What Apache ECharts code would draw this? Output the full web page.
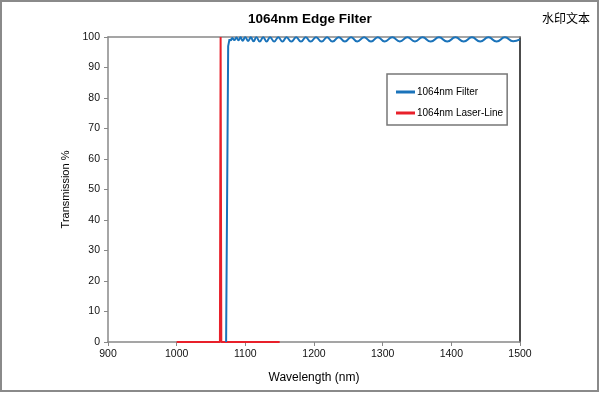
<!DOCTYPE html>
<html><head><meta charset="utf-8">
<script src="https://cdn.jsdelivr.net/npm/echarts@6/dist/echarts.min.js"></script>
<style>html,body{margin:0;padding:0;background:#fff}#c{width:600px;height:393px}</style>
</head><body><div id="c"></div>
<script>
const chartTitle = '1064nm Edge Filter';
const watermark = '水印文本';
const xTicks = [900, 1000, 1100, 1200, 1300, 1400, 1500];
const yTicks = [0, 10, 20, 30, 40, 50, 60, 70, 80, 90, 100];
// Filter edge (steep rise)
const edgeX = [1072, 1073.5, 1075, 1077];
const edgeY = [0, 0, 97, 99.3];
// Filter passband ripple (peaks/troughs)
const rippleX = [1077, 1079, 1081, 1084, 1087, 1090, 1093, 1096, 1100, 1104, 1108, 1112, 1116, 1121, 1126, 1131, 1136, 1142, 1148, 1154, 1160, 1167, 1174, 1181, 1188, 1195, 1203, 1211, 1219, 1227, 1236, 1245, 1254, 1263, 1273, 1283, 1293, 1303, 1314, 1325, 1336, 1347, 1358, 1370, 1382, 1394, 1406, 1418, 1430, 1442, 1454, 1466, 1478, 1490, 1500];
const rippleY = [99.3, 98.9, 99.7, 99.0, 99.8, 98.9, 99.9, 98.8, 99.9, 98.7, 99.9, 98.6, 99.9, 98.5, 99.9, 98.5, 99.9, 98.5, 99.9, 98.5, 99.9, 98.5, 99.9, 98.5, 99.9, 98.5, 99.9, 98.5, 99.9, 98.5, 99.9, 98.5, 99.9, 98.5, 99.9, 98.5, 99.9, 98.5, 99.9, 98.5, 99.9, 98.5, 99.9, 98.5, 99.9, 98.5, 99.9, 98.5, 99.9, 98.5, 99.9, 98.5, 99.9, 98.6, 99.2];
// Laser line
const laserX = [1000, 1063, 1064, 1065, 1150];
const laserY = [0, 0, 100, 0, 0];

const zip = (a, b) => a.map((v, i) => [v, b[i]]);
const FONT = '"Liberation Sans", Arial, sans-serif';
const BLUE = '#1a73ba', RED = '#e8202a';

const chart = echarts.init(document.getElementById('c'), null, {renderer: 'canvas'});
chart.setOption({
  animation: false,
  backgroundColor: '#fff',
  title: {
    text: chartTitle, left: 248, top: 12, padding: 0,
    textStyle: {fontFamily: FONT, fontSize: 13.5, fontWeight: 'bold', color: '#000'}
  },
  grid: {left: 108, top: 37, right: 80, bottom: 51, containLabel: false},
  legend: {
    orient: 'vertical', left: 387, top: 74,
    padding: [13, 4, 7, 9], itemGap: 11, itemWidth: 19, itemHeight: 3, icon: 'rect',
    borderColor: '#777', borderWidth: 1.5, backgroundColor: '#fff',
    textStyle: {fontFamily: FONT, fontSize: 10, color: '#000', padding: [0, 0, 0, -3]},
    data: ['1064nm Filter', '1064nm Laser-Line']
  },
  xAxis: [{
    type: 'value', min: 900, max: 1500, interval: 100,
    name: 'Wavelength (nm)', nameLocation: 'middle', nameGap: 30,
    nameTextStyle: {fontFamily: FONT, fontSize: 12, color: '#000'},
    axisLine: {show: true, lineStyle: {color: '#888', width: 1.5}},
    axisTick: {show: true, length: 4, lineStyle: {color: '#888'}},
    axisLabel: {fontFamily: FONT, fontSize: 10.5, color: '#111', margin: 7,
      formatter: v => xTicks.includes(v) ? String(v) : ''},
    splitLine: {show: false}
  }, {
    type: 'value', position: 'top', min: 900, max: 1500,
    axisLine: {show: true, onZero: false, lineStyle: {color: '#888', width: 1.5}},
    axisTick: {show: false}, axisLabel: {show: false}, splitLine: {show: false}
  }],
  yAxis: [{
    type: 'value', min: 0, max: 100, interval: 10,
    name: 'Transmission %', nameLocation: 'middle', nameGap: 25, nameRotate: 90,
    nameTextStyle: {fontFamily: FONT, fontSize: 11, color: '#000'},
    axisLine: {show: true, lineStyle: {color: '#888', width: 1.5}},
    axisTick: {show: true, length: 4, lineStyle: {color: '#888'}},
    axisLabel: {fontFamily: FONT, fontSize: 10.5, color: '#111', margin: 8,
      formatter: v => yTicks.includes(v) ? String(v) : ''},
    splitLine: {show: false}
  }, {
    type: 'value', position: 'right', min: 0, max: 100,
    axisLine: {show: true, onZero: false, lineStyle: {color: '#111', width: 1.5}},
    axisTick: {show: false}, axisLabel: {show: false}, splitLine: {show: false}
  }],
  series: [
    {name: '1064nm Laser-Line', type: 'line', data: zip(laserX, laserY), showSymbol: false,
      lineStyle: {color: RED, width: 2}, itemStyle: {color: RED}, z: 2},
    {name: '1064nm Filter', type: 'line', data: zip(edgeX, edgeY), showSymbol: false,
      lineStyle: {color: BLUE, width: 2}, itemStyle: {color: BLUE}, z: 3},
    {name: '1064nm Filter', type: 'line', data: zip(rippleX, rippleY), showSymbol: false,
      smooth: 0.5, lineStyle: {color: BLUE, width: 2}, itemStyle: {color: BLUE}, z: 3}
  ],
  graphic: [
    {type: 'rect', shape: {x: 1, y: 1, width: 597, height: 390}, style: {fill: 'none', stroke: '#8a8a8a', lineWidth: 2}, z: 100},
    {type: 'text', x: 542, y: 12, style: {text: watermark, font: '12px "Noto Sans CJK SC"', fill: '#000'}, z: 100}
  ]
});
</script></body></html>
